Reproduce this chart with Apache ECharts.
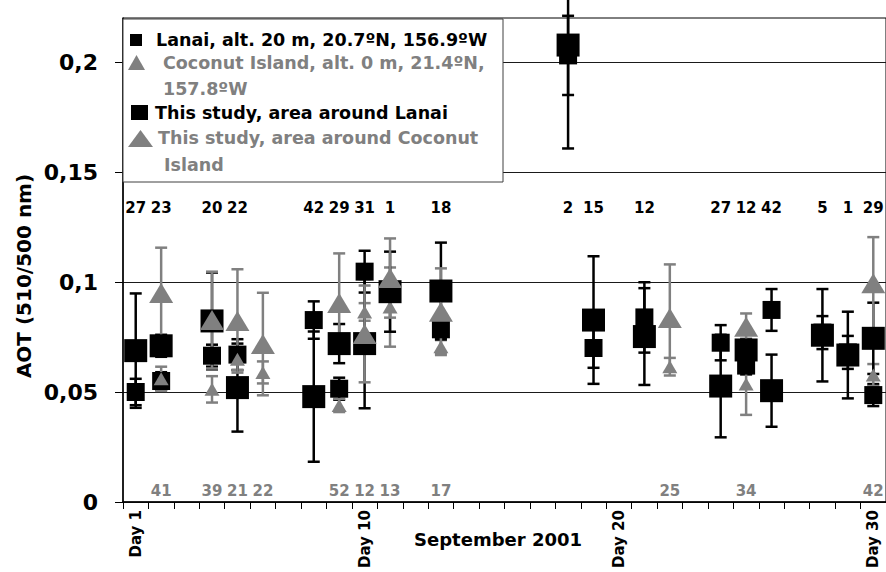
<!DOCTYPE html>
<html><head><meta charset="utf-8">
<script src="https://cdn.jsdelivr.net/npm/echarts@6/dist/echarts.min.js"></script>
<style>html,body{margin:0;padding:0;background:#fff}#c{width:886px;height:572px}</style>
</head><body><div id="c"></div>
<script>
// ---------- data ----------
const dayCategories = ['Day 1','Day 2','Day 3','Day 4','Day 5','Day 6','Day 7','Day 8','Day 9','Day 10',
  'Day 11','Day 12','Day 13','Day 14','Day 15','Day 16','Day 17','Day 18','Day 19','Day 20',
  'Day 21','Day 22','Day 23','Day 24','Day 25','Day 26','Day 27','Day 28','Day 29','Day 30'];
const shownDayLabels = ['Day 1','Day 10','Day 20','Day 30'];
const yTickValues = [0, 0.05, 0.1, 0.15, 0.2];
const yTickLabels = ['0', '0,05', '0,1', '0,15', '0,2'];

// Lanai ground station (small black squares)
const lanaiDays = [1,2,4,5,8,9,10,11,13,18,19,21,24,25,26,28,29,30];
const lanaiAOT  = [0.050,0.055,0.0665,0.067,0.0827,0.0515,0.1047,0.095,0.0785,0.203,0.070,0.0839,0.0724,0.062,0.0873,0.077,0.068,0.0486];
const lanaiErr  = [0.006,0.004,0.005,0.007,0.0085,0.005,0.0095,0,0.004,0.018,0.009,0.016,0.008,0.004,0.0095,0.0075,0.0075,0.005];
const lanaiN    = [27,23,20,22,42,29,31,1,18,2,15,12,27,12,42,5,1,29];

// Coconut Island ground station (small grey triangles)
const coconutDays = [2,4,5,6,9,10,11,13,22,25,30];
const coconutAOT  = [0.056,0.0512,0.0649,0.0589,0.0439,0.0864,0.0886,0.0706,0.0615,0.0536,0.0577];
const coconutErr  = [0.0055,0.006,0.005,0.005,0.003,0.004,0.018,0.003,0.004,0.014,0.005];
const coconutN    = [41,39,21,22,52,12,13,17,25,34,42];

// This study, area around Lanai (big black squares)
const studyLanaiDays = [1,2,4,5,8,9,10,11,13,18,19,21,24,25,26,28,29,30];
const studyLanaiAOT  = [0.0688,0.071,0.0823,0.052,0.0479,0.072,0.072,0.0956,0.0959,0.2077,0.0827,0.0752,0.0527,0.0691,0.0506,0.0758,0.0668,0.0744];
const studyLanaiErr  = [0.026,0.005,0.022,0.020,0.0296,0.0089,0.0294,0.0182,0.022,0.047,0.029,0.022,0.0233,0.005,0.0164,0.021,0.0197,0.0162];

// This study, area around Coconut Island (big grey triangles)
const studyCoconutDays = [2,4,5,6,9,10,11,13,22,25,30];
const studyCoconutAOT  = [0.095,0.0827,0.0823,0.0718,0.0905,0.0764,0.1018,0.0865,0.0836,0.0797,0.0994];
const studyCoconutErr  = [0.0206,0.022,0.0235,0.0233,0.0225,0.022,0.018,0.0197,0.0244,0.006,0.021];

// ---------- styling ----------
const BLACK = '#000000', GREY = '#808080';
const FONT = '"DejaVu Sans", "Liberation Sans", Arial, sans-serif';
const TOP_LABEL_AOT = 0.1336, BOTTOM_LABEL_AOT = 0.005;

function errSeries(days, vals, errs, color) {
  return {
    type: 'custom', silent: true, clip: false,
    data: days.map((d, i) => [d - 1, vals[i], errs[i]]),
    renderItem: function (params, api) {
      const x = api.value(0), v = api.value(1), e = api.value(2);
      if (!e) return null;
      const t = api.coord([x, v + e]), b = api.coord([x, v - e]);
      const hw = 6, lw = 2.5;
      const st = { stroke: color, lineWidth: lw };
      return { type: 'group', children: [
        { type: 'line', shape: { x1: t[0], y1: t[1], x2: b[0], y2: b[1] }, style: st },
        { type: 'line', shape: { x1: t[0] - hw, y1: t[1], x2: t[0] + hw, y2: t[1] }, style: st },
        { type: 'line', shape: { x1: b[0] - hw, y1: b[1], x2: b[0] + hw, y2: b[1] }, style: st }
      ]};
    }
  };
}
function markSeries(name, days, vals, symbol, size, color) {
  return {
    name: name, type: 'scatter', silent: true, symbol: symbol, symbolSize: size,
    itemStyle: { color: color, opacity: 1 },
    data: days.map((d, i) => [d - 1, vals[i]])
  };
}
function countSeries(days, counts, yVal, color) {
  return {
    type: 'custom', silent: true, clip: false,
    data: days.map((d, i) => [d - 1, yVal, counts[i]]),
    renderItem: function (params, api) {
      const p = api.coord([api.value(0), api.value(1)]);
      return { type: 'text', x: p[0], y: p[1], style: {
        text: String(api.value(2)), fill: color, align: 'center', verticalAlign: 'middle',
        font: 'bold 15px ' + FONT } };
    }
  };
}

const chart = echarts.init(document.getElementById('c'), null, { renderer: 'svg' });
const legendText = (t, x, y, c) => ({ type: 'text', x: x, y: y, z: 101,
  style: { text: t, fill: c, font: 'bold 17.5px ' + FONT, verticalAlign: 'middle', align: 'left' } });

chart.setOption({
  animation: false,
  backgroundColor: '#ffffff',
  grid: { left: 123, top: 18, width: 774, height: 484, show: true, borderColor: BLACK, borderWidth: 1, backgroundColor: 'transparent' },
  xAxis: {
    type: 'category', data: dayCategories, boundaryGap: true,
    axisLine: { lineStyle: { color: BLACK, width: 1.5 } },
    axisTick: { show: true, interval: 0, length: 7, lineStyle: { color: BLACK, width: 1 } },
    axisLabel: {
      interval: (i, v) => shownDayLabels.indexOf(v) >= 0,
      rotate: 90, margin: 8, color: BLACK, fontFamily: FONT, fontWeight: 'bold', fontSize: 15
    },
    splitLine: { show: false }
  },
  yAxis: {
    type: 'value', min: 0, max: 0.22, interval: 0.05,
    axisLine: { show: true, lineStyle: { color: BLACK, width: 1.5 } },
    axisTick: { show: true, length: 8, lineStyle: { color: BLACK }, customValues: yTickValues },
    axisLabel: {
      customValues: yTickValues,
      formatter: v => { const i = yTickValues.findIndex(t => Math.abs(t - v) < 1e-9); return i >= 0 ? yTickLabels[i] : ''; },
      margin: 25, color: BLACK, fontFamily: FONT, fontWeight: 'bold', fontSize: 22
    },
    splitLine: { show: true, lineStyle: { color: '#1a1a1a', width: 1 } }
  },
  series: [
    errSeries(lanaiDays, lanaiAOT, lanaiErr, BLACK),
    markSeries('Lanai, alt. 20 m, 20.7ºN, 156.9ºW', lanaiDays, lanaiAOT, 'rect', 18, BLACK),
    errSeries(coconutDays, coconutAOT, coconutErr, GREY),
    markSeries('Coconut Island, alt. 0 m, 21.4ºN, 157.8ºW', coconutDays, coconutAOT, 'triangle', [15, 13], GREY),
    errSeries(studyLanaiDays, studyLanaiAOT, studyLanaiErr, BLACK),
    markSeries('This study, area around Lanai', studyLanaiDays, studyLanaiAOT, 'rect', 23, BLACK),
    errSeries(studyCoconutDays, studyCoconutAOT, studyCoconutErr, GREY),
    markSeries('This study, area around Coconut Island', studyCoconutDays, studyCoconutAOT, 'triangle', [24, 20], GREY),
    countSeries(lanaiDays, lanaiN, TOP_LABEL_AOT, BLACK),
    countSeries(coconutDays, coconutN, BOTTOM_LABEL_AOT, GREY)
  ],
  graphic: [
    { type: 'text', x: 24, y: 276, rotation: Math.PI / 2,
      style: { text: 'AOT (510/500 nm)', fill: BLACK, font: 'bold 20px ' + FONT, align: 'center', verticalAlign: 'middle' } },
    { type: 'text', x: 498, y: 539,
      style: { text: 'September 2001', fill: BLACK, font: 'bold 18px ' + FONT, align: 'center', verticalAlign: 'middle' } },
    { type: 'rect', z: 100, shape: { x: 123, y: 19, width: 380, height: 163 },
      style: { fill: '#ffffff', stroke: '#404040', lineWidth: 1 } },
    { type: 'rect', z: 101, shape: { x: 130, y: 34, width: 12, height: 12 }, style: { fill: BLACK } },
    legendText('Lanai, alt. 20 m, 20.7ºN, 156.9ºW', 156, 40, BLACK),
    { type: 'polygon', z: 101, shape: { points: [[128, 70], [136.5, 55], [145, 70]] }, style: { fill: GREY } },
    legendText('Coconut Island, alt. 0 m, 21.4ºN,', 163, 63, GREY),
    legendText('157.8ºW', 163, 89, GREY),
    { type: 'rect', z: 101, shape: { x: 131, y: 105, width: 17, height: 15 }, style: { fill: BLACK } },
    legendText('This study, area around Lanai', 155, 113, BLACK),
    { type: 'polygon', z: 101, shape: { points: [[128, 147], [140.5, 130], [153, 147]] }, style: { fill: GREY } },
    legendText('This study, area around Coconut', 158, 138, GREY),
    legendText('Island', 164, 165, GREY)
  ]
});
</script></body></html>
